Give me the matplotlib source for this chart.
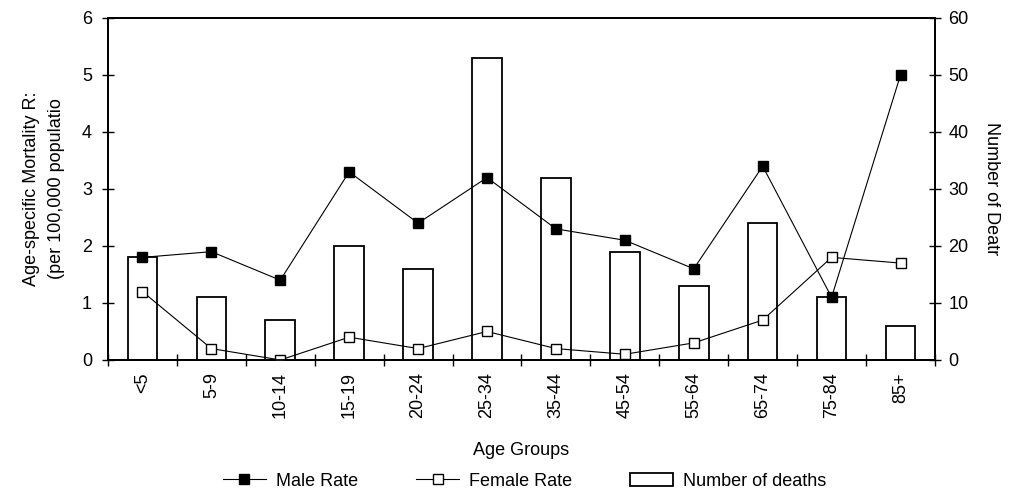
import numpy as np
from matplotlib import pyplot as plt
from matplotlib.lines import Line2D
from matplotlib.patches import Patch

plt.rcParams['font.family'] = ['Liberation Sans', 'DejaVu Sans']
fs = 13

age_groups = ['<5', '5-9', '10-14', '15-19', '20-24', '25-34',
              '35-44', '45-54', '55-64', '65-74', '75-84', '85+']
male_rate = [1.8, 1.9, 1.4, 3.3, 2.4, 3.2, 2.3, 2.1, 1.6, 3.4, 1.1, 5.0]
female_rate = [1.2, 0.2, 0.0, 0.4, 0.2, 0.5, 0.2, 0.1, 0.3, 0.7, 1.8, 1.7]
deaths = [18, 11, 7, 20, 16, 53, 32, 19, 13, 24, 11, 6]

x = np.arange(len(age_groups))

fig = plt.figure(figsize=(10.11, 4.94), dpi=100)
ax = fig.add_axes([0.1068, 0.2713, 0.818, 0.6923])
ax2 = ax.twinx()

# bars on the right axis, lines on top
ax2.bar(x, deaths, width=0.43, color='white', edgecolor='black', linewidth=1.3)
ax.set_zorder(ax2.get_zorder() + 1)
ax.patch.set_visible(False)

ax.plot(x, male_rate, '-', color='black', linewidth=0.8,
        marker='s', markersize=6.5, markerfacecolor='black', markeredgecolor='black')
ax.plot(x, female_rate, '-', color='black', linewidth=0.8,
        marker='s', markersize=6.5, markerfacecolor='white', markeredgecolor='black')

ax.set_xlim(-0.5, len(age_groups) - 0.5)
ax.set_ylim(0, 6)
ax2.set_ylim(0, 60)
ax.set_yticks(range(0, 7))
ax2.set_yticks(range(0, 61, 10))

ax.set_xticks(x)
ax.set_xticklabels(age_groups, rotation=90, fontsize=fs)
ax.set_xticks(np.arange(-0.5, len(age_groups), 1), minor=True)
ax.tick_params(axis='x', which='major', length=0, pad=9)
ax.tick_params(axis='x', which='minor', direction='inout', length=9, width=1)
ax.tick_params(axis='y', direction='inout', length=9, width=1, labelsize=fs, pad=7)
ax2.tick_params(axis='y', direction='inout', length=9, width=1, labelsize=fs, pad=5)

for a in (ax, ax2):
    for s in a.spines.values():
        s.set_linewidth(1.3)

ax.set_ylabel('Age-specific Mortality R:\n(per 100,000 populatio', fontsize=fs,
              labelpad=12, linespacing=1.6)
ax2.set_ylabel('Number of Deatr', fontsize=fs, rotation=270, labelpad=23)
fig.text(0.515, 1 - 450 / 494, 'Age Groups', fontsize=fs, ha='center', va='center')

handles = [
    Line2D([], [], color='black', linewidth=0.8, marker='s', markersize=6.5,
           markerfacecolor='black'),
    Line2D([], [], color='black', linewidth=0.8, marker='s', markersize=6.5,
           markerfacecolor='white'),
    Patch(facecolor='white', edgecolor='black', linewidth=1.3),
]
fig.legend(handles, ['Male Rate', 'Female Rate', 'Number of deaths'],
           loc='center', bbox_to_anchor=(0.519, 1 - 481 / 494), ncol=3,
           frameon=False, fontsize=fs, handlelength=2.4, columnspacing=3.2,
           handletextpad=0.55)

fig.savefig('out.png', dpi=100)
